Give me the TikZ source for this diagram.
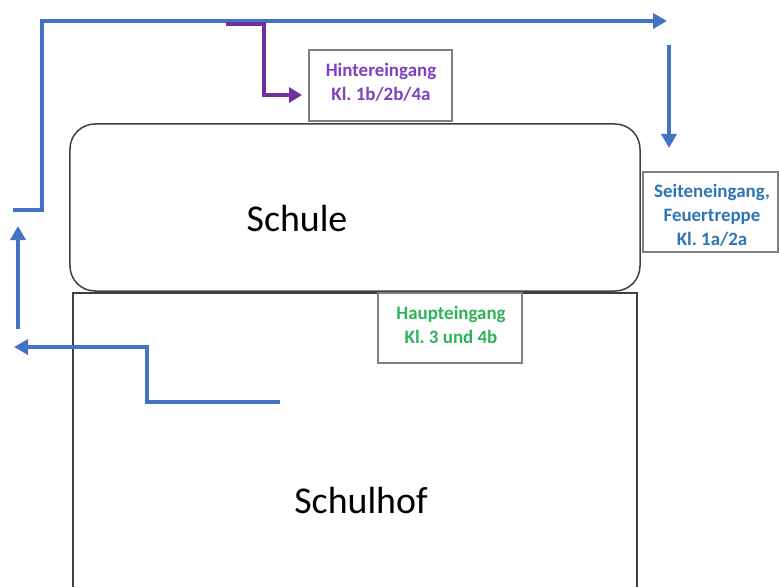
\documentclass[tikz,border=0pt]{standalone}
\usepackage{fontspec}
\setmainfont{Carlito}
\usetikzlibrary{arrows.meta}
\definecolor{arrowblue}{HTML}{4472C4}
\definecolor{arrowpurple}{HTML}{7030A0}
\definecolor{txtpurple}{HTML}{8040BF}
\definecolor{txtblue}{HTML}{2E75B6}
\definecolor{txtgreen}{HTML}{2DB35A}
\definecolor{boxgray}{HTML}{808080}
\definecolor{bldgray}{HTML}{404040}
\tikzset{
  lblbox/.style={draw=boxgray, line width=1.2bp, rectangle, inner sep=0pt, fill=white},
  lbltext/.style={inner sep=0pt, align=center,
    font=\frenchspacing\fontsize{19}{24}\selectfont\bfseries},
  bigtext/.style={inner sep=0pt, font=\fontsize{38}{44}\selectfont},
  bluearrow/.style={draw=arrowblue, line width=4bp, line join=miter,
    -{Triangle[length=14bp,width=15bp]}},
  purplearrow/.style={draw=arrowpurple, line width=4bp, line join=miter,
    -{Triangle[length=13bp,width=15bp]}},
  outline/.style={draw=bldgray, line width=1.5bp}
}
\begin{document}
\begin{tikzpicture}[x=1bp,y=-1bp]
\useasboundingbox (0,0) rectangle (779,587);
% buildings
\node[outline, rounded corners=25bp, minimum width=570bp, minimum height=167bp, inner sep=0pt] (schule) at (355,207.5) {};
\node[bigtext] (schuletxt) at (297,218) {Schule};
\coordinate (hofbl) at (73,590);
\coordinate (hoftl) at (73,293);
\coordinate (hoftr) at (637,293);
\coordinate (hofbr) at (637,590);
\draw[outline] (hofbl) -- (hoftl) -- (hoftr) -- (hofbr);
\node[bigtext] (schulhof) at (361,500) {Schulhof};
% label boxes
\node[lblbox, minimum width=143bp, minimum height=71bp] (hinter) at (380.5,85.5) {};
\node[lbltext, text=txtpurple] (hintertxt) at (381,82) {Hintereingang\\Kl. 1b/2b/4a};
\node[lblbox, minimum width=135bp, minimum height=80bp] (seite) at (710.5,212) {};
\node[lbltext, text=txtblue] (seitetxt) at (712,215) {Seiteneingang,\\Feuertreppe\\Kl. 1a/2a};
\node[lblbox, minimum width=144bp, minimum height=70bp] (haupt) at (450,328) {};
\node[lbltext, text=txtgreen] (haupttxt) at (451,325) {Haupteingang\\Kl. 3 und 4b};
% blue route around top
\coordinate (a0) at (13,210);
\coordinate (a1) at (42,210);
\coordinate (a2) at (42,21);
\coordinate (a3) at (667,21);
\draw[bluearrow] (a0) -- (a1) -- (a2) -- (a3);
\coordinate (d0) at (669,45);
\coordinate (d1) at (669,148);
\draw[bluearrow] (d0) -- (d1);
\coordinate (u0) at (18,329);
\coordinate (u1) at (18,226);
\draw[bluearrow] (u0) -- (u1);
\coordinate (b0) at (280,402);
\coordinate (b1) at (147,402);
\coordinate (b2) at (147,347);
\coordinate (b3) at (14,347);
\draw[bluearrow] (b0) -- (b1) -- (b2) -- (b3);
% purple route
\coordinate (p0) at (226,24);
\coordinate (p1) at (264,24);
\coordinate (p2) at (264,95);
\coordinate (p3) at (302,95);
\draw[purplearrow] (p0) -- (p1) -- (p2) -- (p3);
\end{tikzpicture}
\end{document}
